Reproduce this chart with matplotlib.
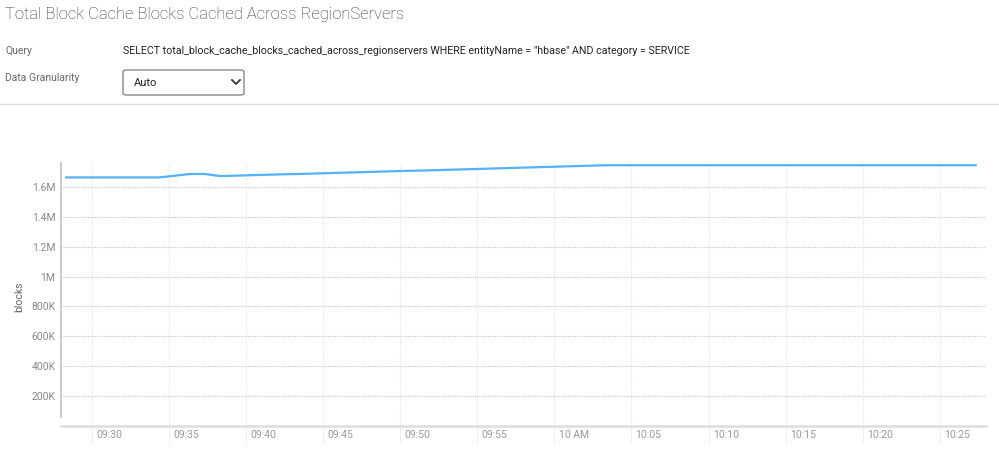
import datetime as dt
import numpy as np
import matplotlib
matplotlib.use("Agg")
import matplotlib.pyplot as plt
import matplotlib.dates as mdates
from matplotlib.patches import FancyBboxPatch
from matplotlib.lines import Line2D
from matplotlib.transforms import ScaledTranslation

plt.rcParams['font.family'] = ['Roboto', 'DejaVu Sans']

# data: one sample per minute, starting 09:28:20
start = dt.datetime(2023, 1, 1, 9, 28, 20)
blocks = [1.667, 1.667, 1.667, 1.667, 1.667, 1.667, 1.667, 1.678, 1.690, 1.690,
          1.676, 1.679, 1.682, 1.685, 1.688, 1.690, 1.693, 1.696, 1.699, 1.702,
          1.705, 1.708, 1.711, 1.713, 1.716, 1.719, 1.722, 1.725, 1.728, 1.731,
          1.734, 1.737, 1.740, 1.743, 1.746, 1.749, 1.749, 1.749, 1.749, 1.749,
          1.749, 1.749, 1.749, 1.749, 1.749, 1.749, 1.749, 1.749, 1.749, 1.749,
          1.749, 1.749, 1.749, 1.749, 1.749, 1.749, 1.749, 1.749, 1.749, 1.749]
times = [start + dt.timedelta(minutes=i) for i in range(len(blocks))]
values = [b * 1e6 for b in blocks]

xtick_times = [dt.datetime(2023, 1, 1, 9, 30) + dt.timedelta(minutes=5 * i) for i in range(12)]
xtick_labels = ["09:30", "09:35", "09:40", "09:45", "09:50", "09:55",
                "10 AM", "10:05", "10:10", "10:15", "10:20", "10:25"]
ytick_values = [200e3, 400e3, 600e3, 800e3, 1e6, 1.2e6, 1.4e6, 1.6e6]
ytick_labels = ["200K", "400K", "600K", "800K", "1M", "1.2M", "1.4M", "1.6M"]

W, H = 999, 457
fig = plt.figure(figsize=(W / 100, H / 100), dpi=100)


def px(x, y):
    return x / W, 1 - y / H


# header
fig.text(*px(5, 14), "Total Block Cache Blocks Cached Across RegionServers",
         fontsize=12, color="#333333", fontweight="light", va="center", ha="left")
fig.text(*px(5, 51), "Query", fontsize=7.5, color="#666666", va="center")
fig.text(*px(123, 51),
         'SELECT total_block_cache_blocks_cached_across_regionservers WHERE entityName = "hbase" AND category = SERVICE',
         fontsize=7.63, color="#222222", va="center")
fig.text(*px(5, 78), "Data Granularity", fontsize=7.5, color="#666666", va="center")

x0, y0 = px(123, 95)
x1, y1 = px(244, 70)
box = FancyBboxPatch((x0, y0), x1 - x0, y1 - y0, boxstyle="round,pad=0,rounding_size=0.004",
                     transform=fig.transFigure, facecolor="white", edgecolor="#8a8a8a", linewidth=1)
fig.add_artist(box)
fig.text(*px(134, 83), "Auto", fontsize=8, color="#222222", va="center")
cx = [px(232, 80)[0], px(236, 84)[0], px(240, 80)[0]]
cy = [px(232, 80)[1], px(236, 84)[1], px(240, 80)[1]]
fig.add_artist(Line2D(cx, cy, transform=fig.transFigure, color="#333333", linewidth=1.3))
lx = [px(0, 104)[0], px(999, 104)[0]]
ly = [px(0, 104)[1], px(999, 104)[1]]
fig.add_artist(Line2D(lx, ly, transform=fig.transFigure, color="#dddddd", linewidth=1))

# chart
left, right = 61 / W, 986 / W
bottom, top = 1 - 425.5 / H, 1 - 163 / H
ax = fig.add_axes([left, bottom, right - left, top - bottom])
ax.plot(times, values, color="#55b1fa", linewidth=1.6)

ax.set_xlim(dt.datetime(2023, 1, 1, 9, 28), dt.datetime(2023, 1, 1, 10, 28))
ax.set_ylim(0, 1.764e6)

ax.set_yticks(ytick_values)
ax.set_yticklabels(ytick_labels)
ax.set_xticks(mdates.date2num(xtick_times))
ax.set_xticklabels(xtick_labels)

ax.grid(axis="y", color="#c8c8c8", linestyle=(0, (1, 1)), linewidth=0.8)
ax.grid(axis="x", color="#e6e6e6", linestyle=(0, (1, 1)), linewidth=0.8)

for s in ["top", "right"]:
    ax.spines[s].set_visible(False)
ax.spines["left"].set_color("#cccccc")
ax.spines["left"].set_linewidth(1.5)
ax.spines["left"].set_bounds(0.057e6, 1.764e6)
ax.spines["bottom"].set_color("#dddddd")
ax.spines["bottom"].set_linewidth(1.8)

ax.tick_params(axis="y", length=0, pad=4, labelsize=7.5, labelcolor="#888888")
ax.tick_params(axis="x", length=12, width=0.6, color="#ececec", pad=-8.5,
               labelsize=7.5, labelcolor="#999999")
offset = ScaledTranslation(3 / 72, 0, fig.dpi_scale_trans)
for lbl in ax.get_xticklabels():
    lbl.set_horizontalalignment("left")
    lbl.set_transform(lbl.get_transform() + offset)

fig.text(*px(19, 297), "blocks", rotation=90, fontsize=7.5, color="#666666",
         va="center", ha="center")

fig.savefig("out.png", dpi=100)
